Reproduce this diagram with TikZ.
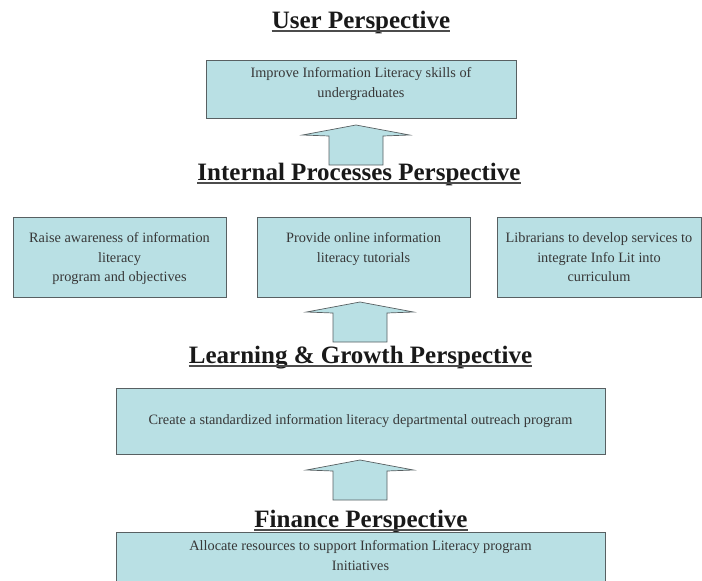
\documentclass[tikz,border=0pt]{standalone}
\usepackage{fontspec}
\setmainfont{Liberation Serif}
\usetikzlibrary{positioning,shadows}
\definecolor{goalfill}{RGB}{185,224,228}
\definecolor{goalline}{RGB}{88,96,98}
\definecolor{goalink}{RGB}{55,55,55}
\tikzset{
  persp/.style={font=\fontsize{25}{30}\selectfont\bfseries, text=black!90, inner sep=0pt, anchor=base},
  persline/.style={line width=1.4pt, black!70},
  goalbox/.style={draw=goalline, fill=goalfill, line width=1pt, inner sep=0pt,
    drop shadow={shadow xshift=0.6pt, shadow yshift=-1.4pt, fill=black!45}},
  goaltext/.style={font=\fontsize{14.3}{19.5}\selectfont, text=goalink, align=center, inner sep=0pt},
  uparrow/.style={draw=goalline, fill=goalfill, line width=0.7pt}
}
\begin{document}
\begin{tikzpicture}[x=1pt,y=-1pt]
\clip (0,0) rectangle (702,581);
% arrows between the levels
\coordinate (tip1) at (356,125);
\coordinate (tip2) at (360,302);
\coordinate (tip3) at (360,460);
\foreach \t in {tip1,tip2,tip3}
  \path[uparrow] (\t) -- ++(53.5,10) -- ++(-26.5,1) -- ++(0,29) -- ++(-54,0) -- ++(0,-29) -- ++(-26.5,-1) -- cycle;
% user
\node[persp] (user) at (361,28) {User Perspective};
\node[goalbox, minimum width=310, minimum height=58] (usergoal) at (361,89) {};
\node[goaltext, below=8pt of usergoal.north] (usertxt) {Improve Information Literacy skills of\\undergraduates};
% internal processes
\node[persp] (internal) at (359,180) {Internal Processes Perspective};
\node[goalbox, minimum width=213, minimum height=80] (aware) at (119.5,257) {};
\node[goalbox, minimum width=213, minimum height=80] (tutor) at (363.5,257) {};
\node[goalbox, minimum width=204, minimum height=80] (libr) at (599,257) {};
\node[goaltext, below=16pt of aware.north] (awaretxt) {Raise awareness of information\\literacy\\program and objectives};
\node[goaltext, below=16pt of tutor.north] (tutortxt) {Provide online information\\literacy tutorials};
\node[goaltext, below=16pt of libr.north] (librtxt) {Librarians to develop services to\\integrate Info Lit into\\curriculum};
% learning and growth
\node[persp] (learning) at (360.5,363) {Learning \& Growth Perspective};
\node[goalbox, minimum width=489, minimum height=66] (outreach) at (360.5,421) {};
\node[goaltext] (outreachtxt) at (outreach.center) {Create a standardized information literacy departmental outreach program};
% finance
\node[persp] (finance) at (361,527) {Finance Perspective};
\node[goalbox, minimum width=489, minimum height=68] (alloc) at (360.5,566) {};
\node[goaltext, below=9pt of alloc.north] (alloctxt) {Allocate resources to support Information Literacy program\\Initiatives};
% underlines
\foreach \n in {user,internal,learning,finance}
  \draw[persline] ([yshift=-3pt]\n.base west) -- ([yshift=-3pt]\n.base east);
\end{tikzpicture}
\end{document}
